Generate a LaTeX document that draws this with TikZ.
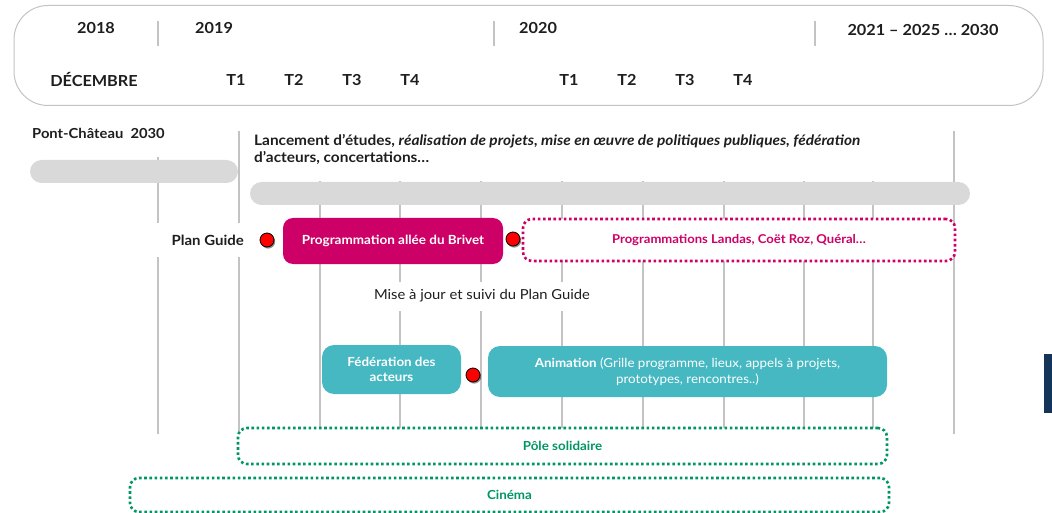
\documentclass[tikz,border=0pt]{standalone}
\usepackage{fontspec}
\setmainfont{Lato}[FakeStretch=1.07]
\usetikzlibrary{shadows}
\definecolor{mag}{RGB}{204,0,102}
\definecolor{tealc}{RGB}{69,184,194}
\definecolor{grn}{RGB}{0,150,100}
\definecolor{gridc}{RGB}{195,195,195}
\definecolor{barc}{RGB}{217,217,217}
\definecolor{navyc}{RGB}{20,53,87}
\definecolor{txt}{RGB}{30,30,30}
\tikzset{
  hdr/.style={font=\fontsize{15.2}{17}\selectfont\bfseries, text=txt, inner sep=0},
  gridline/.style={draw=gridc, line width=1.1pt},
  bar/.style={fill=barc, rounded corners=11.5pt, draw=none},
  mask/.style={fill=white, draw=none, inner sep=0},
  reddot/.style={circle, fill=red, draw=black, line width=0.8pt, minimum size=14pt, inner sep=0,
     drop shadow={shadow xshift=1.2pt, shadow yshift=-1.6pt, opacity=0.45, fill=black}},
  magbox/.style={fill=mag, rounded corners=10pt, text=white, inner sep=0, font=\fontsize{12.6}{15}\selectfont\bfseries},
  magdot/.style={draw=mag, line width=2.6pt, dash pattern=on 2.6pt off 2.6pt, fill=white, rounded corners=9pt, inner sep=0, text=mag, font=\fontsize{12.2}{15}\selectfont\bfseries},
  tealbox/.style={fill=tealc, rounded corners=12pt, text=white, inner sep=0, align=center, font=\fontsize{12.5}{16}\selectfont},
  grndot/.style={draw=grn, line width=2.6pt, dash pattern=on 2.6pt off 2.6pt, fill=white, rounded corners=9pt, inner sep=0, text=grn, font=\fontsize{12.5}{15}\selectfont\bfseries},
  lbl/.style={text=txt, inner sep=0},
}
\begin{document}
\begin{tikzpicture}[x=1pt,y=-1pt]
\useasboundingbox (0,0) rectangle (1052,513);
% header
\node[draw=gridc, line width=1pt, rounded corners=34pt, minimum width=1029pt, minimum height=100pt, inner sep=0] (header) at (528.5,55.5) {};
\draw[gridline] (158,21) -- (158,46);
\draw[gridline] (494,21) -- (494,46);
\draw[gridline] (815,21) -- (815,46);
\node[hdr] (y2018) at (96,28) {2018};
\node[hdr, anchor=west] (y2019) at (195,28) {2019};
\node[hdr, anchor=west] (y2020) at (519,28) {2020};
\node[hdr] (y2021) at (923,30) {2021 – 2025 … 2030};
\node[hdr] (dec) at (94,79) {DÉCEMBRE};
\node[hdr] (t1a) at (236,80) {T1};
\node[hdr] (t2a) at (294,80) {T2};
\node[hdr] (t3a) at (352,80) {T3};
\node[hdr] (t4a) at (410,80) {T4};
\node[hdr] (t1b) at (569,80) {T1};
\node[hdr] (t2b) at (627,80) {T2};
\node[hdr] (t3b) at (685,80) {T3};
\node[hdr] (t4b) at (743,80) {T4};
% grid lines
\draw[gridline] (158,157) -- (158,434);
\foreach \x in {239,954} \draw[gridline] (\x,131) -- (\x,434);
\foreach \x in {320,400,481,562,643,724,804,873} \draw[gridline] (\x,181) -- (\x,434);
% bars
\node[bar, minimum width=208pt, minimum height=23pt, inner sep=0] (bar1) at (134,171.5) {};
\node[bar, minimum width=720pt, minimum height=23pt, inner sep=0] (bar2) at (610,193.5) {};
% texts
\node[lbl, anchor=west, font=\fontsize{13.8}{16}\selectfont\bfseries] (pc) at (32,133) {Pont-Château\ \ 2030};
\node[lbl, anchor=north west, align=left, font=\fontsize{14.4}{17}\selectfont\bfseries] (lanc) at (254,134.5)
  {Lancement d’études, \textit{réalisation de projets, mise en œuvre de politiques publiques, fédération}\\d’acteurs, concertations…};
% masks
\node[mask, minimum width=90pt, minimum height=34pt] (pgmask) at (201,240) {};
\node[mask, minimum width=226pt, minimum height=29pt] (mmask) at (482,296.5) {};
\node[lbl, anchor=east, font=\fontsize{14}{16}\selectfont\bfseries] (pg) at (244,240) {Plan Guide};
\node[lbl, font=\fontsize{13.8}{15}\selectfont] (maj) at (482,296) {Mise à jour et suivi du Plan Guide};
% boxes
\node[magbox, minimum width=220pt, minimum height=46pt] (brivet) at (393,241) {Programmation allée du Brivet};
\node[magdot, minimum width=432pt, minimum height=42pt] (landas) at (739,240) {Programmations Landas, Coët Roz, Quéral…};
\node[tealbox, minimum width=139pt, minimum height=49pt, font=\fontsize{12.5}{15}\selectfont\bfseries] (fed) at (391.5,369.5) {Fédération des\\acteurs};
\node[tealbox, minimum width=399pt, minimum height=51pt] (anim) at (687.5,371.5) {\textbf{Animation} (Grille programme, lieux, appels à projets,\\prototypes, rencontres..)};
\node[grndot, minimum width=649pt, minimum height=36pt] (pole) at (562.5,446) {Pôle solidaire};
\node[grndot, minimum width=759pt, minimum height=34pt] (cine) at (509.5,495) {Cinéma};
% red dots
\node[reddot] (d1) at (267,240) {};
\node[reddot] (d2) at (513,239) {};
\node[reddot] (d3) at (473,375) {};
% navy tab
\fill[navyc] (1044,354) rectangle (1052,413);
\end{tikzpicture}
\end{document}
